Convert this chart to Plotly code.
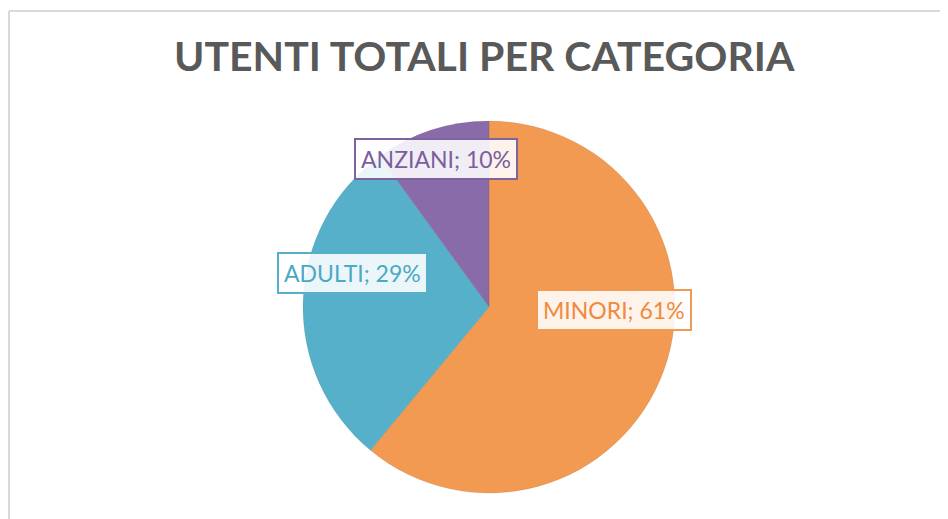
import plotly.graph_objects as go

categories = ["MINORI", "ADULTI", "ANZIANI"]
values = [61, 29, 10]
slice_colors = ["#F39A52", "#57B0C9", "#8A6BAA"]
text_colors = ["#F08A3C", "#4BA9C3", "#7A5E9E"]
title_text = "UTENTI TOTALI PER CATEGORIA"

W, H = 948, 519
OFF = 8  # page body offset

def px_x(x):
    return (x - OFF) / W

def px_y(y):
    return 1 - (y - OFF) / H

fig = go.Figure()

cx, cy, r = 489, 307, 186
fig.add_trace(go.Pie(
    labels=categories,
    values=values,
    sort=False,
    direction="clockwise",
    rotation=0,
    marker=dict(colors=slice_colors, line=dict(color="rgba(0,0,0,0.08)", width=1)),
    textinfo="none",
    hoverinfo="label+percent",
    showlegend=False,
    domain=dict(x=[px_x(cx - r), px_x(cx + r)], y=[px_y(cy + r), px_y(cy - r)]),
))

# label boxes (centres in pixels)
label_pos = [(614, 310), (352, 273), (436, 159)]
border_cols = [slice_colors[0], slice_colors[1], "#7F63A1"]
for cat, val, (px, py), tc, bc in zip(categories, values, label_pos, text_colors, border_cols):
    fig.add_annotation(
        x=px_x(px), y=px_y(py), xref="paper", yref="paper",
        text=f"{cat}; {val}%", showarrow=False,
        font=dict(family="Lato, Arial", size=23, color=tc),
        bgcolor="rgba(255,255,255,0.88)", bordercolor=bc, borderwidth=2, borderpad=5,
        xanchor="center", yanchor="middle",
    )

fig.add_annotation(
    x=px_x(484), y=px_y(55), xref="paper", yref="paper",
    text=f"<b>{title_text}</b>", showarrow=False,
    font=dict(family="Lato, Arial", size=41, color="#595959"),
    xanchor="center", yanchor="middle",
)

# outer frame (top and left edges visible)
fig.add_shape(type="line", xref="paper", yref="paper",
              x0=px_x(9), x1=1, y0=px_y(11), y1=px_y(11),
              line=dict(color="#D9D9D9", width=2))
fig.add_shape(type="line", xref="paper", yref="paper",
              x0=px_x(9), x1=px_x(9), y0=0, y1=px_y(11),
              line=dict(color="#D9D9D9", width=2))

fig.update_layout(
    width=W, height=H,
    margin=dict(l=0, r=0, t=0, b=0),
    paper_bgcolor="white", plot_bgcolor="white",
)

fig.write_html("out.html")
